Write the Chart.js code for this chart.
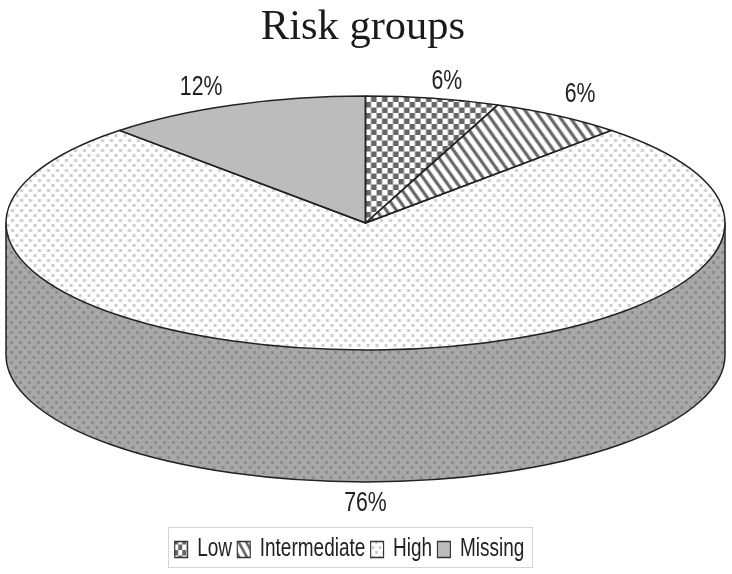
<!DOCTYPE html>
<html><head><meta charset="utf-8">
<style>html,body{margin:0;padding:0;background:#fff;overflow:hidden}canvas{display:block}</style>
<script src="https://cdn.jsdelivr.net/npm/chart.js@4"></script>
</head><body><canvas id="c" width="732" height="574"></canvas>
<script>
const categories = ["Low","Intermediate","High","Missing"];
const values = [6,6,76,12];
const valueLabels = ["6%","6%","76%","12%"];
const titleText = "Risk groups";
// label nudges relative to the slice rim, in pixels
const labelNudgeX = [14,22,0,-32];
const labelNudgeY = [-17,-21,153,-18];
const disc = {cx:365.5, cy:223, rx:359.5, ry:127, depth:132};
const legendFrame = {cx:349.5, narrow:0.76, padX:7, top:527, height:40};
const ink = "#222";

function tile(w,h,draw){
  const c=document.createElement("canvas");c.width=w;c.height=h;
  const g=c.getContext("2d");draw(g);
  return g.createPattern(c,"repeat");
}
const checker=tile(11,11,g=>{g.fillStyle="#fff";g.fillRect(0,0,11,11);g.fillStyle="#666";g.fillRect(0,0,5.5,5.5);g.fillRect(5.5,5.5,5.5,5.5);});
const stripes=tile(10,14,g=>{g.fillStyle="#fff";g.fillRect(0,0,10,14);g.strokeStyle="#666";g.lineWidth=3.2;
  for(const o of [-10,0,10]){g.beginPath();g.moveTo(o-1,-1.4);g.lineTo(o+11,15.4);g.stroke();}});
const dots=(bg,fg)=>tile(9,10,g=>{g.fillStyle=bg;g.fillRect(0,0,9,10);g.fillStyle=fg;g.fillRect(1,1,3,3);g.fillRect(5.5,6,3,3);});
const highFill=dots("#fff","#cccccc");
const sideFill=dots("#a8a8a8","#8c8c8c");
const missFill="#bcbcbc";
const scaled=[checker,stripes,highFill];

const disc3d={
  id:"disc3d",
  beforeDraw(chart){
    // Condensed look of the legend: squeeze it horizontally about its own centre
    const lg=chart.legend;
    if(lg._squeezed) return;
    lg._squeezed=true;
    const draw=lg.draw;
    lg.draw=function(...args){
      const c=this.ctx,mid=(this.left+this.right)/2;
      c.save();c.translate(legendFrame.cx,0);c.scale(legendFrame.narrow,1);c.translate(-mid,0);
      draw.apply(this,args);
      c.restore();
    };
  },
  beforeDatasetsDraw(chart){
    const ctx=chart.ctx,a=chart.getDatasetMeta(0).data[0];
    const {cx,cy,rx,ry,depth}=disc;
    ctx.save();
    ctx.beginPath();
    ctx.ellipse(cx,cy+depth,rx,ry,0,Math.PI,0,true);
    ctx.lineTo(cx+rx,cy);
    ctx.lineTo(cx-rx,cy);
    ctx.closePath();
    ctx.fillStyle=sideFill;ctx.fill();
    ctx.strokeStyle=ink;ctx.lineWidth=1.5;ctx.stroke();
    ctx.restore();
    const sx=rx/a.outerRadius,sy=ry/a.outerRadius;
    ctx.save();
    ctx.translate(cx,cy);ctx.scale(sx,sy);ctx.translate(-a.x,-a.y);
    const m=new DOMMatrix().translate(a.x,a.y).scale(1/sx,1/sy);
    scaled.forEach(p=>p.setTransform(m));
  },
  afterDatasetsDraw(chart){
    const ctx=chart.ctx,I=new DOMMatrix();
    ctx.restore();
    scaled.forEach(p=>p.setTransform(I));
    const {cx,cy,rx,ry}=disc;
    ctx.save();ctx.strokeStyle=ink;ctx.lineWidth=1.5;ctx.lineJoin="round";
    chart.getDatasetMeta(0).data.forEach(el=>{
      ctx.beginPath();ctx.moveTo(cx,cy);
      ctx.ellipse(cx,cy,rx,ry,0,el.startAngle,el.endAngle);
      ctx.closePath();ctx.stroke();
    });
    ctx.restore();
  },
  afterDraw(chart){
    const ctx=chart.ctx,{cx,cy,rx,ry}=disc;
    ctx.save();
    ctx.font="28px 'Liberation Sans',sans-serif";
    ctx.fillStyle=ink;ctx.textAlign="center";ctx.textBaseline="middle";
    chart.getDatasetMeta(0).data.forEach((el,i)=>{
      const t=(el.startAngle+el.endAngle)/2;
      ctx.save();
      ctx.translate(cx+rx*Math.cos(t)+labelNudgeX[i],cy+ry*Math.sin(t)+labelNudgeY[i]);
      ctx.scale(legendFrame.narrow,1);
      ctx.fillText(valueLabels[i],0,0);
      ctx.restore();
    });
    const lg=chart.legend,h=lg.legendHitBoxes,mid=(lg.left+lg.right)/2;
    const l=Math.min(...h.map(b=>b.left)),r=Math.max(...h.map(b=>b.left+b.width));
    const x0=legendFrame.cx+(l-mid)*legendFrame.narrow-legendFrame.padX;
    const x1=legendFrame.cx+(r-mid)*legendFrame.narrow+legendFrame.padX;
    ctx.strokeStyle="#d4d4d4";ctx.lineWidth=1;
    ctx.strokeRect(Math.round(x0)+.5,legendFrame.top+.5,Math.round(x1-x0),legendFrame.height);
    ctx.restore();
  }
};

new Chart(document.getElementById("c"),{
  type:"pie",
  plugins:[disc3d],
  data:{labels:categories,datasets:[{data:values,backgroundColor:[checker,stripes,highFill,missFill],borderWidth:0,clip:false}]},
  options:{
    responsive:false,animation:false,
    layout:{padding:{bottom:2,right:6}},
    plugins:{
      tooltip:{enabled:false},
      title:{display:true,text:titleText,color:"#1a1a1a",font:{family:"'Liberation Serif',serif",size:42.5,weight:"normal"},padding:{top:2,bottom:10}},
      legend:{position:"bottom",labels:{
        color:ink,boxWidth:17,boxHeight:16,padding:7,
        font:{family:"'Liberation Sans',sans-serif",size:25},
        generateLabels(chart){
          return Chart.overrides.pie.plugins.legend.labels.generateLabels(chart).map(it=>({...it,lineWidth:1.5,strokeStyle:"#333"}));
        }
      }}
    }
  }
});
</script></body></html>
